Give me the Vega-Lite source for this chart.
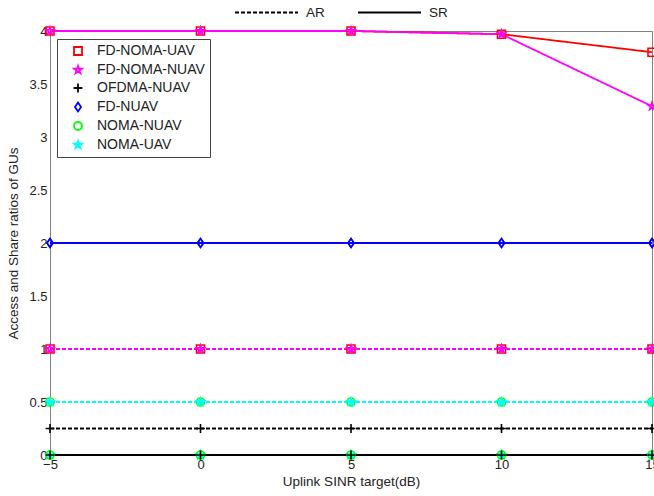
{
  "$schema": "https://vega.github.io/schema/vega-lite/v6.json",
  "autosize": {"type": "none"},
  "padding": {"left": 50, "top": 31, "right": 2, "bottom": 41},
  "width": 602,
  "height": 424,
  "background": "white",
  "config": {
    "font": "Liberation Sans",
    "view": {"stroke": "#808080", "strokeWidth": 1},
    "axis": {
      "grid": false,
      "ticks": false,
      "domainColor": "#808080",
      "domainWidth": 1,
      "labelColor": "#222222",
      "labelFontSize": 13,
      "titleFontSize": 13.5,
      "titleFontWeight": "normal",
      "titleColor": "#222222",
      "labelFont": "Liberation Sans",
      "titleFont": "Liberation Sans"
    },
    "legend": {
      "orient": "none",
      "legendX": 7,
      "legendY": 8,
      "padding": 5,
      "symbolOffset": 9,
      "fillColor": "white",
      "strokeColor": "#444444",
      "labelFontSize": 14,
      "labelFont": "Liberation Sans",
      "labelColor": "#222222",
      "labelOffset": 12,
      "rowPadding": 3,
      "symbolSize": 64,
      "symbolStrokeWidth": 1.8,
      "labelLimit": 300
    }
  },
  "data": {
    "values": [
      {"series": "FD-NOMA-UAV", "metric": "SR", "x": -5, "y": 4},
      {"series": "FD-NOMA-UAV", "metric": "SR", "x": 0, "y": 4},
      {"series": "FD-NOMA-UAV", "metric": "SR", "x": 5, "y": 4},
      {"series": "FD-NOMA-UAV", "metric": "SR", "x": 10, "y": 3.97},
      {"series": "FD-NOMA-UAV", "metric": "SR", "x": 15, "y": 3.8},
      {"series": "FD-NOMA-UAV", "metric": "AR", "x": -5, "y": 1},
      {"series": "FD-NOMA-UAV", "metric": "AR", "x": 0, "y": 1},
      {"series": "FD-NOMA-UAV", "metric": "AR", "x": 5, "y": 1},
      {"series": "FD-NOMA-UAV", "metric": "AR", "x": 10, "y": 1},
      {"series": "FD-NOMA-UAV", "metric": "AR", "x": 15, "y": 1},
      {"series": "FD-NOMA-NUAV", "metric": "SR", "x": -5, "y": 4},
      {"series": "FD-NOMA-NUAV", "metric": "SR", "x": 0, "y": 4},
      {"series": "FD-NOMA-NUAV", "metric": "SR", "x": 5, "y": 4},
      {"series": "FD-NOMA-NUAV", "metric": "SR", "x": 10, "y": 3.97},
      {"series": "FD-NOMA-NUAV", "metric": "SR", "x": 15, "y": 3.29},
      {"series": "FD-NOMA-NUAV", "metric": "AR", "x": -5, "y": 1},
      {"series": "FD-NOMA-NUAV", "metric": "AR", "x": 0, "y": 1},
      {"series": "FD-NOMA-NUAV", "metric": "AR", "x": 5, "y": 1},
      {"series": "FD-NOMA-NUAV", "metric": "AR", "x": 10, "y": 1},
      {"series": "FD-NOMA-NUAV", "metric": "AR", "x": 15, "y": 1},
      {"series": "FD-NUAV", "metric": "AR", "x": -5, "y": 2},
      {"series": "FD-NUAV", "metric": "AR", "x": 0, "y": 2},
      {"series": "FD-NUAV", "metric": "AR", "x": 5, "y": 2},
      {"series": "FD-NUAV", "metric": "AR", "x": 10, "y": 2},
      {"series": "FD-NUAV", "metric": "AR", "x": 15, "y": 2},
      {"series": "FD-NUAV", "metric": "SR", "x": -5, "y": 2},
      {"series": "FD-NUAV", "metric": "SR", "x": 0, "y": 2},
      {"series": "FD-NUAV", "metric": "SR", "x": 5, "y": 2},
      {"series": "FD-NUAV", "metric": "SR", "x": 10, "y": 2},
      {"series": "FD-NUAV", "metric": "SR", "x": 15, "y": 2},
      {"series": "NOMA-UAV", "metric": "SR", "x": -5, "y": 0},
      {"series": "NOMA-UAV", "metric": "SR", "x": 0, "y": 0},
      {"series": "NOMA-UAV", "metric": "SR", "x": 5, "y": 0},
      {"series": "NOMA-UAV", "metric": "SR", "x": 10, "y": 0},
      {"series": "NOMA-UAV", "metric": "SR", "x": 15, "y": 0},
      {"series": "NOMA-NUAV", "metric": "SR", "x": -5, "y": 0},
      {"series": "NOMA-NUAV", "metric": "SR", "x": 0, "y": 0},
      {"series": "NOMA-NUAV", "metric": "SR", "x": 5, "y": 0},
      {"series": "NOMA-NUAV", "metric": "SR", "x": 10, "y": 0},
      {"series": "NOMA-NUAV", "metric": "SR", "x": 15, "y": 0},
      {"series": "NOMA-NUAV", "metric": "AR", "x": -5, "y": 0.5},
      {"series": "NOMA-NUAV", "metric": "AR", "x": 0, "y": 0.5},
      {"series": "NOMA-NUAV", "metric": "AR", "x": 5, "y": 0.5},
      {"series": "NOMA-NUAV", "metric": "AR", "x": 10, "y": 0.5},
      {"series": "NOMA-NUAV", "metric": "AR", "x": 15, "y": 0.5},
      {"series": "NOMA-UAV", "metric": "AR", "x": -5, "y": 0.5},
      {"series": "NOMA-UAV", "metric": "AR", "x": 0, "y": 0.5},
      {"series": "NOMA-UAV", "metric": "AR", "x": 5, "y": 0.5},
      {"series": "NOMA-UAV", "metric": "AR", "x": 10, "y": 0.5},
      {"series": "NOMA-UAV", "metric": "AR", "x": 15, "y": 0.5},
      {"series": "OFDMA-NUAV", "metric": "SR", "x": -5, "y": 0},
      {"series": "OFDMA-NUAV", "metric": "SR", "x": 0, "y": 0},
      {"series": "OFDMA-NUAV", "metric": "SR", "x": 5, "y": 0},
      {"series": "OFDMA-NUAV", "metric": "SR", "x": 10, "y": 0},
      {"series": "OFDMA-NUAV", "metric": "SR", "x": 15, "y": 0},
      {"series": "OFDMA-NUAV", "metric": "AR", "x": -5, "y": 0.25},
      {"series": "OFDMA-NUAV", "metric": "AR", "x": 0, "y": 0.25},
      {"series": "OFDMA-NUAV", "metric": "AR", "x": 5, "y": 0.25},
      {"series": "OFDMA-NUAV", "metric": "AR", "x": 10, "y": 0.25},
      {"series": "OFDMA-NUAV", "metric": "AR", "x": 15, "y": 0.25}
    ]
  },
  "encoding": {
    "x": {
      "field": "x",
      "type": "quantitative",
      "scale": {"domain": [-5, 15], "nice": false, "zero": false},
      "axis": {
        "title": "Uplink SINR target(dB)",
        "values": [-5, 0, 5, 10, 15],
        "labelPadding": 3,
        "titlePadding": 3,
        "labelOverlap": false,
        "labelBound": false,
        "labelFlush": false
      }
    },
    "y": {
      "field": "y",
      "type": "quantitative",
      "scale": {"domain": [0, 4], "nice": false},
      "axis": {
        "title": "Access and Share ratios of GUs",
        "values": [0, 0.5, 1, 1.5, 2, 2.5, 3, 3.5, 4],
        "format": "~g",
        "labelPadding": 3,
        "titlePadding": 8,
        "labelOverlap": false,
        "labelBound": false,
        "labelFlush": false
      }
    }
  },
  "layer": [
    {
      "mark": {"type": "line", "strokeWidth": 1.8},
      "encoding": {
        "color": {
          "field": "series",
          "type": "nominal",
          "scale": {
            "domain": ["NOMA-UAV", "NOMA-NUAV", "FD-NUAV", "OFDMA-NUAV", "FD-NOMA-NUAV", "FD-NOMA-UAV"],
            "range": ["#00ffff", "#00ff00", "#0000ff", "#000000", "#ff00ff", "#ff0000"]
          },
          "legend": null
        },
        "strokeDash": {
          "field": "metric",
          "type": "nominal",
          "scale": {"domain": ["AR", "SR"], "range": [[4, 2], [1, 0]]},
          "legend": {
            "title": null,
            "orient": "none",
            "direction": "horizontal",
            "legendX": 184,
            "legendY": -51,
            "padding": 0,
            "fillColor": "transparent",
            "strokeColor": "transparent",
            "symbolOffset": 0,
            "symbolType": "stroke",
            "symbolSize": 3969,
            "symbolStrokeColor": "black",
            "symbolStrokeWidth": 2,
            "labelFontSize": 13.5,
            "labelFont": "Liberation Sans",
            "labelColor": "#222222",
            "labelOffset": 7,
            "columnPadding": 29
          }
        }
      }
    },
    {
      "mark": {"type": "point", "strokeWidth": 1.6, "size": 64, "opacity": 1},
      "encoding": {
        "stroke": {
          "field": "series",
          "type": "nominal",
          "scale": {
            "domain": ["FD-NOMA-UAV", "FD-NOMA-NUAV", "OFDMA-NUAV", "FD-NUAV", "NOMA-NUAV", "NOMA-UAV"],
            "range": ["#ff0000", "#ff00ff", "#000000", "#0000ff", "#00ff00", "#00ffff"]
          },
          "legend": {"title": null}
        },
        "fill": {
          "field": "series",
          "type": "nominal",
          "scale": {
            "domain": ["FD-NOMA-UAV", "FD-NOMA-NUAV", "OFDMA-NUAV", "FD-NUAV", "NOMA-NUAV", "NOMA-UAV"],
            "range": ["transparent", "transparent", "transparent", "transparent", "transparent", "#00ffff"]
          },
          "legend": {"title": null}
        },
        "shape": {
          "field": "series",
          "type": "nominal",
          "scale": {
            "domain": ["FD-NOMA-UAV", "FD-NOMA-NUAV", "OFDMA-NUAV", "FD-NUAV", "NOMA-NUAV", "NOMA-UAV"],
            "range": [
              "square",
              "M0,-1L0.225,-0.31L0.95,-0.31L0.36,0.12L0.59,0.81L0,0.38L-0.59,0.81L-0.36,0.12L-0.95,-0.31L-0.225,-0.31Z",
              "M-1.1,0L1.1,0M0,-1.1L0,1.1",
              "M0,-1.1L0.75,0L0,1.1L-0.75,0Z",
              "circle",
              "M0,-1L0.225,-0.31L0.95,-0.31L0.36,0.12L0.59,0.81L0,0.38L-0.59,0.81L-0.36,0.12L-0.95,-0.31L-0.225,-0.31Z"
            ]
          },
          "legend": {"title": null}
        }
      }
    }
  ]
}
